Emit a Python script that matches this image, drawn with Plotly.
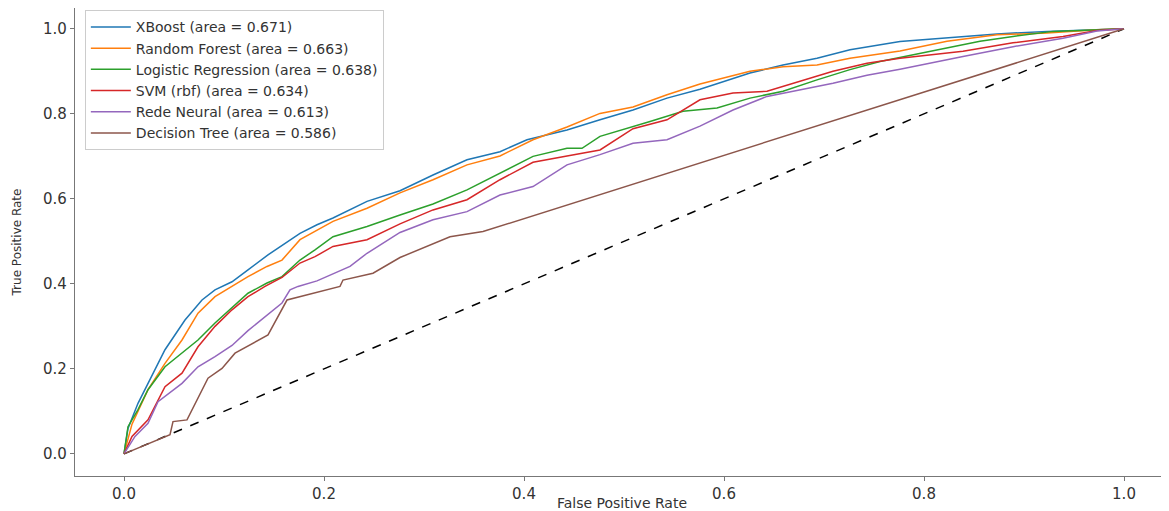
import plotly.graph_objects as go

# curvas ROC (fpr, tpr)
xgb_fpr = [0, 0.004, 0.014, 0.024, 0.041, 0.061, 0.078, 0.091, 0.108, 0.124, 0.144, 0.176, 0.193, 0.209,
           0.243, 0.276, 0.309, 0.343, 0.376, 0.403, 0.443, 0.476, 0.509, 0.543, 0.576, 0.626, 0.659, 0.693,
           0.726, 0.776, 0.823, 0.873, 0.923, 0.973, 1.0]
xgb_tpr = [0, 0.06, 0.119, 0.166, 0.245, 0.315, 0.362, 0.386, 0.405, 0.433, 0.468, 0.519, 0.539, 0.555,
           0.594, 0.619, 0.656, 0.692, 0.711, 0.739, 0.762, 0.786, 0.809, 0.837, 0.858, 0.896, 0.915, 0.931,
           0.951, 0.970, 0.978, 0.988, 0.994, 0.999, 1.0]

rf_fpr = [0, 0.008, 0.024, 0.041, 0.058, 0.074, 0.091, 0.108, 0.124, 0.143, 0.158, 0.176, 0.209, 0.243,
          0.276, 0.309, 0.343, 0.376, 0.409, 0.443, 0.476, 0.509, 0.543, 0.576, 0.626, 0.659, 0.693, 0.726,
          0.776, 0.823, 0.873, 0.923, 0.973, 1.0]
rf_tpr = [0, 0.07, 0.151, 0.213, 0.268, 0.331, 0.37, 0.394, 0.417, 0.441, 0.456, 0.504, 0.547, 0.578,
          0.614, 0.645, 0.68, 0.701, 0.739, 0.769, 0.801, 0.816, 0.845, 0.870, 0.900, 0.911, 0.915, 0.931,
          0.948, 0.971, 0.986, 0.99, 0.998, 1.0]

lr_fpr = [0, 0.004, 0.014, 0.024, 0.041, 0.058, 0.074, 0.091, 0.108, 0.124, 0.143, 0.158, 0.176, 0.191,
          0.209, 0.243, 0.276, 0.309, 0.343, 0.376, 0.409, 0.443, 0.458, 0.476, 0.509, 0.526, 0.559, 0.593,
          0.626, 0.659, 0.693, 0.726, 0.756, 0.789, 0.823, 0.856, 0.889, 0.929, 0.956, 1.0]
lr_tpr = [0, 0.064, 0.104, 0.151, 0.205, 0.237, 0.268, 0.308, 0.343, 0.378, 0.402, 0.417, 0.456, 0.48,
          0.511, 0.535, 0.562, 0.588, 0.621, 0.66, 0.70, 0.719, 0.719, 0.747, 0.769, 0.782, 0.806, 0.814,
          0.837, 0.853, 0.880, 0.904, 0.923, 0.939, 0.955, 0.971, 0.982, 0.994, 0.996, 1.0]

svm_fpr = [0, 0.008, 0.024, 0.034, 0.041, 0.058, 0.074, 0.091, 0.108, 0.124, 0.141, 0.158, 0.176, 0.191,
           0.209, 0.243, 0.276, 0.309, 0.326, 0.343, 0.376, 0.409, 0.443, 0.476, 0.509, 0.543, 0.576, 0.609,
           0.643, 0.676, 0.709, 0.743, 0.776, 0.839, 0.889, 0.939, 0.973, 1.0]
svm_tpr = [0, 0.041, 0.08, 0.127, 0.158, 0.19, 0.252, 0.30, 0.339, 0.37, 0.394, 0.415, 0.449, 0.464,
           0.488, 0.504, 0.541, 0.574, 0.586, 0.598, 0.645, 0.686, 0.701, 0.715, 0.765, 0.786, 0.833, 0.849,
           0.853, 0.876, 0.900, 0.919, 0.931, 0.947, 0.967, 0.982, 0.996, 1.0]

nn_fpr = [0, 0.011, 0.024, 0.034, 0.058, 0.074, 0.091, 0.108, 0.124, 0.143, 0.158, 0.166, 0.174, 0.193,
          0.226, 0.243, 0.276, 0.309, 0.343, 0.376, 0.409, 0.443, 0.476, 0.509, 0.543, 0.576, 0.609, 0.643,
          0.676, 0.709, 0.743, 0.776, 0.839, 0.889, 0.939, 0.973, 1.0]
nn_tpr = [0, 0.041, 0.072, 0.123, 0.166, 0.205, 0.229, 0.255, 0.29, 0.327, 0.355, 0.386, 0.394, 0.407,
          0.441, 0.472, 0.521, 0.551, 0.570, 0.609, 0.629, 0.680, 0.704, 0.731, 0.739, 0.771, 0.809, 0.841,
          0.856, 0.872, 0.891, 0.905, 0.935, 0.958, 0.978, 0.995, 1.0]

dt_fpr = [0, 0.046, 0.049, 0.063, 0.084, 0.098, 0.111, 0.131, 0.144, 0.163, 0.184, 0.216, 0.219, 0.249,
          0.276, 0.309, 0.326, 0.359, 1.0]
dt_tpr = [0, 0.045, 0.076, 0.08, 0.178, 0.201, 0.237, 0.264, 0.28, 0.362, 0.374, 0.394, 0.409, 0.425,
          0.462, 0.494, 0.511, 0.523, 1.0]

curvas = [
    ("XBoost (area = 0.671)", xgb_fpr, xgb_tpr, "#1f77b4"),
    ("Random Forest (area = 0.663)", rf_fpr, rf_tpr, "#ff7f0e"),
    ("Logistic Regression (area = 0.638)", lr_fpr, lr_tpr, "#2ca02c"),
    ("SVM (rbf) (area = 0.634)", svm_fpr, svm_tpr, "#d62728"),
    ("Rede Neural (area = 0.613)", nn_fpr, nn_tpr, "#9467bd"),
    ("Decision Tree (area = 0.586)", dt_fpr, dt_tpr, "#8c564b"),
]

fig = go.Figure()

# linha de referência (classificador aleatório)
fig.add_trace(go.Scatter(x=[0, 1], y=[0, 1], mode="lines", showlegend=False,
                         line=dict(color="black", dash="dash", width=1.5)))

for nome, fpr, tpr, cor in curvas:
    fig.add_trace(go.Scatter(x=fpr, y=tpr, mode="lines", name=nome,
                             line=dict(color=cor, width=1.5)))

eixo = dict(showline=True, linecolor="#777", linewidth=1.2, mirror=True, showgrid=False, zeroline=False,
            ticks="outside", ticklen=4, tickcolor="#777", tickformat=".1f", dtick=0.2,
            tickfont=dict(family="DejaVu Sans", size=15, color="#333"))

# a página tem 8px de margem no body, por isso a figura é um pouco menor
fig.update_layout(
    width=1161, height=503,
    margin=dict(l=67, r=0, t=0, b=35),
    plot_bgcolor="white", paper_bgcolor="white",
    font=dict(family="DejaVu Sans", color="#333"),
    xaxis=dict(eixo, range=[-0.049, 1.045], automargin=False,
               title=dict(text="False Positive Rate", standoff=0, font=dict(size=14))),
    yaxis=dict(eixo, range=[-0.052, 1.049], automargin=False,
               title=dict(text="True Positive Rate", standoff=18, font=dict(size=12))),
    legend=dict(x=0.009, y=0.995, xanchor="left", yanchor="top", itemwidth=40,
                bgcolor="rgba(255,255,255,0.8)", bordercolor="#ccc", borderwidth=1,
                font=dict(family="DejaVu Sans", size=14, color="#333"), tracegroupgap=0),
)

fig.write_html("out.html")
